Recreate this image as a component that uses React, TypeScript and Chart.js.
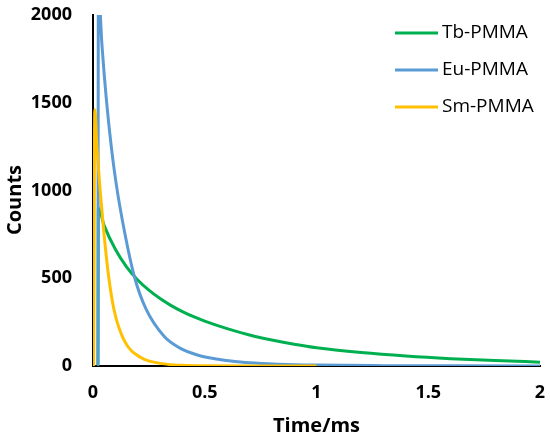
import React, { useEffect, useRef } from 'react';
import { Chart, registerables } from 'chart.js';

Chart.register(...registerables);

// Decay curves (time in ms, counts)
const tbTime = [0.02, 0.022, 0.024, 0.05, 0.1, 0.15, 0.2, 0.25, 0.3, 0.35, 0.4, 0.45, 0.5, 0.6, 0.7, 0.8, 0.9, 1.0, 1.2, 1.4, 1.6, 1.8, 2.0];
const tbCounts = [0, 0, 900, 800, 665, 565, 490, 432, 384, 344, 310, 281, 256, 213, 177, 148, 124, 104, 77, 57, 42, 31, 22];

const euTime = [0.02, 0.022, 0.024, 0.04, 0.06, 0.08, 0.103, 0.14, 0.185, 0.237, 0.32, 0.385, 0.474, 0.55, 0.608, 0.7, 0.83, 1.0, 1.3, 1.6, 2.0];
const euCounts = [0, 0, 2150, 1830, 1516, 1270, 1045, 772, 510, 325, 166, 105, 60, 40, 30, 18, 10, 5, 2, 1, 0];

const smTime = [0.003, 0.008, 0.018, 0.03, 0.048, 0.069, 0.095, 0.14, 0.214, 0.32, 0.4, 0.5, 0.7, 1.0];
const smCounts = [0, 1460, 1240, 1030, 770, 520, 315, 145, 48, 12, 4, 1, 0, 0];

const xTicks = [0, 0.5, 1, 1.5, 2];
const yTicks = [0, 500, 1000, 1500, 2000];

function toPoints(xs: number[], ys: number[]) {
    return xs.map((x, i) => ({ x, y: ys[i] }));
}

// legend inside the plot (top right) and the rotated y title
const extras = {
    id: 'extras',
    afterDatasetsDraw(chart: any) {
        const ctx = chart.ctx;
        ctx.save();
        ctx.font = '19px "Open Sans"';
        ctx.textBaseline = 'middle';
        ctx.textAlign = 'left';
        chart.data.datasets.forEach((ds: any, i: number) => {
            const y = 33 + i * 37;
            ctx.strokeStyle = ds.borderColor;
            ctx.lineWidth = 3;
            ctx.beginPath();
            ctx.moveTo(395, y);
            ctx.lineTo(438, y);
            ctx.stroke();
            ctx.fillStyle = '#000';
            ctx.fillText(ds.label, 442, y);
        });

        ctx.translate(15, 200);
        ctx.rotate(-Math.PI / 2);
        ctx.textAlign = 'center';
        ctx.font = 'bold 20px "Open Sans"';
        ctx.fillText('Counts', 0, 0);
        ctx.restore();
    }
};

export default function App() {
    const canvasRef = useRef<HTMLCanvasElement | null>(null);
    const chartRef = useRef<Chart | null>(null);

    useEffect(() => {
        document.body.style.margin = '0';
        if (!canvasRef.current) return;
        if (chartRef.current) chartRef.current.destroy();

        const tickFont = { family: '"Open Sans"', size: 18, weight: 'bold' as const };
        const titleFont = { family: '"Open Sans"', size: 20, weight: 'bold' as const };

        chartRef.current = new Chart(canvasRef.current, {
            type: 'line',
            data: {
                datasets: [
                    {
                        label: 'Tb-PMMA',
                        data: toPoints(tbTime, tbCounts),
                        borderColor: '#00B050',
                        borderWidth: 3,
                        pointRadius: 0,
                        cubicInterpolationMode: 'monotone',
                        order: 3
                    },
                    {
                        label: 'Eu-PMMA',
                        data: toPoints(euTime, euCounts),
                        borderColor: '#5B9BD5',
                        borderWidth: 3,
                        pointRadius: 0,
                        cubicInterpolationMode: 'monotone',
                        order: 2
                    },
                    {
                        label: 'Sm-PMMA',
                        data: toPoints(smTime, smCounts),
                        borderColor: '#FFC000',
                        borderWidth: 3,
                        pointRadius: 0,
                        cubicInterpolationMode: 'monotone',
                        order: 1
                    }
                ]
            },
            options: {
                animation: false,
                responsive: true,
                maintainAspectRatio: false,
                layout: { padding: { top: 15, right: 10, left: 0, bottom: 0 } },
                plugins: {
                    legend: { display: false },
                    tooltip: { enabled: false }
                },
                scales: {
                    x: {
                        type: 'linear',
                        min: 0,
                        max: 2,
                        afterBuildTicks: (scale: any) => {
                            scale.ticks = xTicks.map(v => ({ value: v }));
                        },
                        afterFit: (scale: any) => {
                            scale.height = 76;
                            scale.paddingLeft = 0;
                            scale.paddingRight = 0;
                        },
                        grid: { display: false, drawTicks: false },
                        border: { display: true, color: '#000', width: 2 },
                        ticks: {
                            color: '#000',
                            font: tickFont,
                            padding: 16,
                            maxRotation: 0,
                            callback: (v: any) => String(v)
                        },
                        title: {
                            display: true,
                            text: 'Time/ms',
                            color: '#000',
                            font: titleFont
                        }
                    },
                    y: {
                        type: 'linear',
                        min: 0,
                        max: 2000,
                        afterBuildTicks: (scale: any) => {
                            scale.ticks = yTicks.map(v => ({ value: v }));
                        },
                        afterFit: (scale: any) => {
                            scale.width = 93;
                            scale.paddingTop = 0;
                            scale.paddingBottom = 0;
                        },
                        grid: { display: false, drawTicks: false },
                        border: { display: true, color: '#000', width: 2 },
                        ticks: {
                            color: '#000',
                            font: tickFont,
                            padding: 21,
                            callback: (v: any) => String(v)
                        }
                    }
                }
            },
            plugins: [extras]
        });

        return () => {
            if (chartRef.current) {
                chartRef.current.destroy();
                chartRef.current = null;
            }
        };
    }, []);

    return (
        <div style={{ position: 'relative', width: 550, height: 442 }}>
            <canvas ref={canvasRef}></canvas>
        </div>
    );
}
